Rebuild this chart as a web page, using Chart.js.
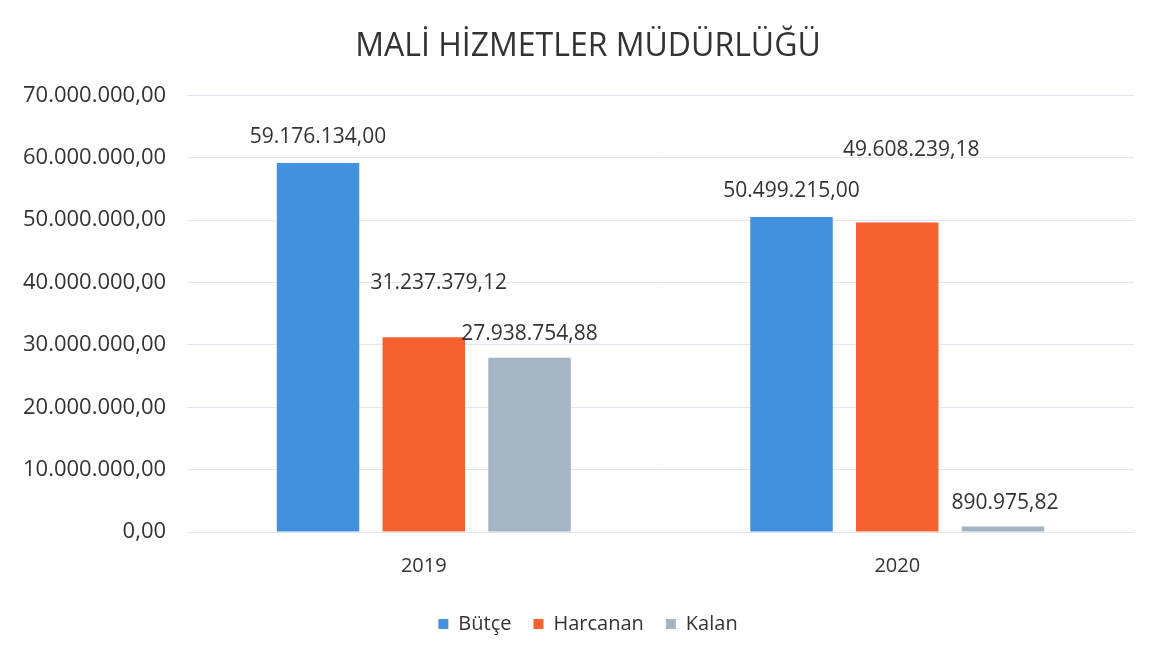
<!DOCTYPE html>
<html>
<head>
<meta charset="utf-8">
<script src="https://cdn.jsdelivr.net/npm/chart.js@4.4.1/dist/chart.umd.min.js"></script>
<style>
  html, body { margin: 0; padding: 0; background: #fff; }
  #wrap { width: 1155px; height: 654px; }
</style>
</head>
<body>
<div id="wrap"><canvas id="chart" width="1155" height="654"></canvas></div>
<script>
// Veriler
const years = ["2019", "2020"];
const butce = [59176134.00, 50499215.00];
const harcanan = [31237379.12, 49608239.18];
const kalan = [27938754.88, 890975.82];
const yTicks = [0, 10000000, 20000000, 30000000, 40000000, 50000000, 60000000, 70000000];

const colors = {
  butce: "#4290de",
  harcanan: "#f5622f",
  kalan: "#a4b4c2",
};

// Etiket kaydırmaları (orijinal slaytta elle yerleştirilmiş)
const labelShift = [
  [[0, 0], [0, 0]],
  [[15, -28], [14, -47]],
  [[0, 2], [2, 3]],
];

const formatTR = (v) => {
  const fixed = Math.abs(v).toFixed(2);
  const [intPart, dec] = fixed.split(".");
  const withDots = intPart.replace(/\B(?=(\d{3})+(?!\d))/g, ".");
  return withDots + "," + dec;
};

const fontFamily = "'Open Sans', 'Noto Sans', sans-serif";
const textColor = "#333333";

// Başlık ve lejant orijinalde biraz sağda
const shiftBlocks = {
  id: "shiftBlocks",
  afterLayout(chart) {
    const t = chart.titleBlock;
    t.left += 20; t.right += 20;
    const lg = chart.legend;
    lg.left += 20; lg.right += 20;
    lg.adjustHitBoxes();
  },
};

const valueLabels = {
  id: "valueLabels",
  afterDatasetsDraw(chart) {
    const ctx = chart.ctx;
    ctx.save();
    ctx.font = "21px " + fontFamily;
    ctx.fillStyle = textColor;
    ctx.textAlign = "center";
    ctx.textBaseline = "middle";
    chart.data.datasets.forEach((ds, di) => {
      chart.getDatasetMeta(di).data.forEach((bar, i) => {
        const [dx, dy] = labelShift[di][i];
        ctx.fillText(formatTR(ds.data[i]), bar.x + dx, bar.y - 26 + dy);
      });
    });
    ctx.restore();
  },
};

new Chart(document.getElementById("chart").getContext("2d"), {
  type: "bar",
  data: {
    labels: years,
    datasets: [
      { label: "Bütçe", data: butce, backgroundColor: colors.butce },
      { label: "Harcanan", data: harcanan, backgroundColor: colors.harcanan },
      { label: "Kalan", data: kalan, backgroundColor: colors.kalan },
    ],
  },
  options: {
    responsive: false,
    animation: false,
    categoryPercentage: 0.67,
    barPercentage: 0.78,
    layout: { padding: { left: 2, right: 21, top: 10, bottom: 10 } },
    plugins: {
      title: {
        display: true,
        text: "MALİ HİZMETLER MÜDÜRLÜĞÜ",
        color: textColor,
        font: { family: fontFamily, size: 32, weight: "normal" },
        padding: { top: 18, bottom: 29 },
      },
      legend: {
        position: "bottom",
        labels: {
          color: textColor,
          font: { family: fontFamily, size: 20 },
          boxWidth: 10,
          boxHeight: 10,
          padding: 22,
        },
      },
      tooltip: { enabled: false },
    },
    scales: {
      x: {
        grid: { display: false },
        border: { display: false },
        ticks: {
          color: textColor,
          font: { family: fontFamily, size: 20 },
          padding: 14,
        },
      },
      y: {
        min: 0,
        max: 70000000,
        afterBuildTicks: (axis) => {
          axis.ticks = yTicks.map((v) => ({ value: v }));
        },
        grid: { color: "#e4e6ef", lineWidth: 1, drawTicks: false },
        border: { display: false },
        ticks: {
          color: textColor,
          font: { family: fontFamily, size: 22 },
          padding: 21,
          callback: (v) => formatTR(v),
        },
      },
    },
  },
  plugins: [shiftBlocks, valueLabels],
});
</script>
</body>
</html>
